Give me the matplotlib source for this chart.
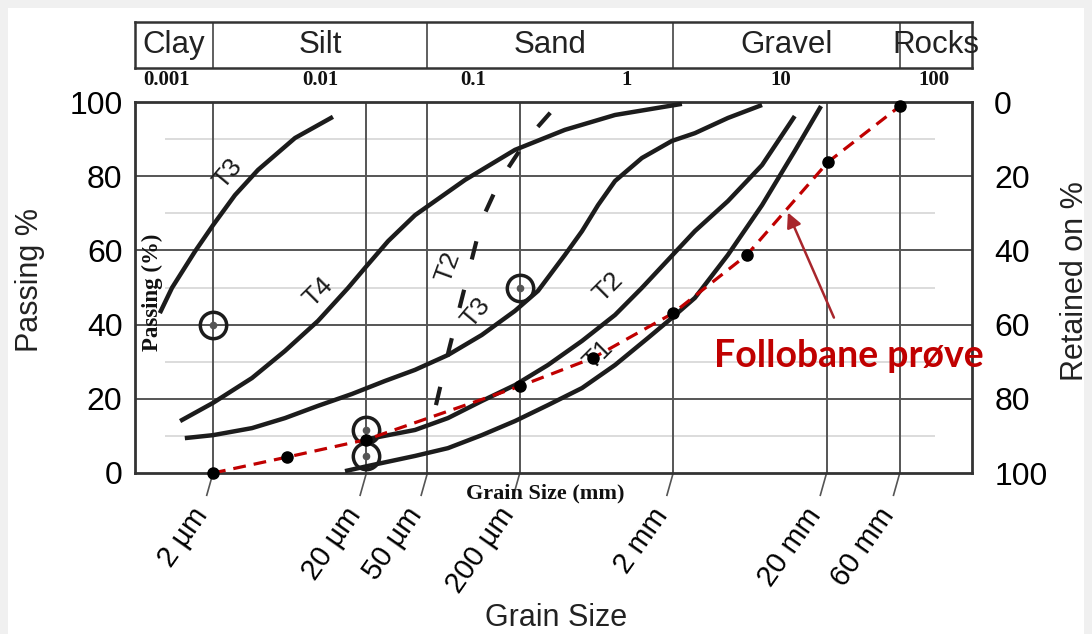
import numpy as np
import matplotlib.pyplot as plt
from matplotlib.patches import Rectangle
from matplotlib.transforms import ScaledTranslation

plt.rcParams['font.family'] = ['Liberation Sans', 'DejaVu Sans']

# grain size (mm) and passing (%)
T3_UPPER_SIZE = [0.0009, 0.00108, 0.00153, 0.002, 0.00278, 0.00393, 0.00685, 0.0121]
T3_UPPER_PASS = [43.1, 49.9, 59.8, 66.8, 74.9, 81.7, 90.3, 96.0]

T4_SIZE = [0.00122, 0.002, 0.00359, 0.00589, 0.00967, 0.0152, 0.0196, 0.0277,
           0.0415, 0.0879, 0.186, 0.394, 0.835, 2.28]
T4_PASS = [14.0, 18.9, 25.6, 32.9, 41.0, 49.9, 55.3, 62.5, 69.5, 79.0, 87.1, 92.5, 96.5, 99.5]

T3_LOWER_SIZE = [0.00131, 0.002, 0.00359, 0.00589, 0.00967, 0.0161, 0.0264, 0.0415, 0.068,
                 0.113, 0.186, 0.263, 0.394, 0.509, 0.647, 0.835, 1.25, 1.96, 2.77, 4.55, 7.59]
T3_LOWER_PASS = [9.4, 10.2, 12.1, 14.8, 18.1, 21.3, 24.8, 27.8, 31.8, 37.2, 43.7, 49.1,
                 58.8, 65.2, 72.2, 78.7, 84.9, 89.5, 91.6, 95.7, 99.2]

T2_SIZE = [0.019, 0.0415, 0.068, 0.113, 0.186, 0.305, 0.509, 0.835, 1.25, 2.77, 4.55, 7.59, 12.4]
T2_PASS = [8.9, 11.6, 14.8, 19.4, 23.7, 29.1, 35.6, 42.6, 49.9, 65.2, 73.3, 83.0, 96.2]

T1_SIZE = [0.0145, 0.0205, 0.0415, 0.068, 0.113, 0.186, 0.305, 0.509, 0.835, 1.37,
           1.96, 2.77, 4.55, 7.59, 12.4, 18.4]
T1_PASS = [0.5, 1.9, 4.6, 6.7, 10.2, 14.0, 18.3, 22.9, 29.1, 36.4, 41.8, 47.2, 58.8,
           72.2, 86.8, 98.9]

T2_DASHED_SIZE = [0.0568, 0.069, 0.113, 0.149, 0.226, 0.319]
T2_DASHED_PASS = [18.3, 33.2, 68.2, 79.0, 90.3, 97.3]

# circled reference points
CIRCLE_SIZE = [0.002, 0.02, 0.02, 0.2]
CIRCLE_PASS = [40, 11.5, 4.5, 50]

# Follobane sample
SAMPLE_SIZE = [0.002, 0.0061, 0.02, 0.2, 0.6, 2.0, 6.05, 20.4, 60.2]
SAMPLE_PASS = [0, 4.3, 9.0, 23.4, 31.0, 43.1, 58.8, 83.8, 98.9]

# curve labels: text, size, passing, rotation
CURVE_LABELS = [('T3', 0.0025, 80.6, 50), ('T4', 0.00967, 48.8, 45), ('T2', 0.068, 55.5, 70),
                ('T3', 0.104, 43.1, 50), ('T2', 0.75, 50.1, 45), ('T1', 0.646, 31.8, 45)]

X_TICKS = [0.002, 0.02, 0.05, 0.2, 2, 20, 60]
X_TICK_LABELS = ['2 µm', '20 µm', '50 µm', '200 µm', '2 mm', '20 mm', '60 mm']
Y_TICKS = [0, 20, 40, 60, 80, 100]

SOIL_BOUNDS = [0.002, 0.05, 2, 60]
SOIL_NAMES = ['Clay', 'Silt', 'Sand', 'Gravel', 'Rocks']
DECADES = [0.001, 0.01, 0.1, 1, 10, 100]
DECADE_LABELS = ['0.001', '0.01', '0.1', '1', '10', '100']

XMIN, XMAX = 0.00062, 177.4
W, H = 1092, 634

fig = plt.figure(figsize=(W / 100, H / 100), dpi=100, facecolor='#f0f0f0')
fig.patches.append(Rectangle((8 / W, 0), 1 - 16 / W, 1 - 8 / H, transform=fig.transFigure,
                             facecolor='white', edgecolor='none', zorder=-10))

ax = fig.add_axes([135 / W, 1 - 473 / H, 837 / W, 371 / H])
ax.set_xscale('log')
ax.set_xlim(XMIN, XMAX)
ax.set_ylim(0, 100)
ax.set_facecolor('none')

# grid
for y in [10, 30, 50, 70, 90]:
    ax.hlines(y, 0.00097, 102, color='#d6d6d6', lw=1.2, zorder=1)
for y in [20, 40, 60, 80]:
    ax.axhline(y, color='#555555', lw=1.4, zorder=1)
for x in X_TICKS:
    ax.axvline(x, color='#555555', lw=1.4, zorder=1)
for s in ax.spines.values():
    s.set_linewidth(2)
    s.set_color('#333333')

# soil curves
kw = dict(color='#1c1c1c', lw=3.2, solid_capstyle='butt', solid_joinstyle='round', zorder=3)
ax.plot(T3_UPPER_SIZE, T3_UPPER_PASS, **kw)
ax.plot(T4_SIZE, T4_PASS, **kw)
ax.plot(T3_LOWER_SIZE, T3_LOWER_PASS, **kw)
ax.plot(T2_SIZE, T2_PASS, **kw)
ax.plot(T1_SIZE, T1_PASS, **kw)
ax.plot(T2_DASHED_SIZE, T2_DASHED_PASS, color='#1c1c1c', lw=3, dashes=(4.5, 7.5), zorder=3)

ax.plot(CIRCLE_SIZE, CIRCLE_PASS, 'o', ms=19, mfc='none', mec='#1c1c1c', mew=2.5, zorder=4)
ax.plot(CIRCLE_SIZE, CIRCLE_PASS, 'o', ms=4.5, color='#555555', zorder=4)

for txt, x, y, rot in CURVE_LABELS:
    ax.text(x, y, txt, rotation=rot, ha='center', va='center', fontsize=19, color='#1c1c1c', zorder=4)

# sample line
ax.plot(SAMPLE_SIZE, SAMPLE_PASS, color='#c00000', lw=2.3, dashes=(4, 2.5), zorder=5)
ax.plot(SAMPLE_SIZE, SAMPLE_PASS, 'o', color='black', ms=8, zorder=6, clip_on=False)

ax.annotate('', xy=(11.0, 70.9), xytext=(22.7, 41.2),
            arrowprops=dict(arrowstyle='-|>', color='#a8262c', lw=1.8, mutation_scale=22), zorder=6)
ax.text(3.69, 31.5, 'Follobane prøve', fontsize=27, fontweight='bold', family='Lato',
        color='#c00000', ha='left', va='center', zorder=7, clip_on=False)

# axes ticks
ax.set_yticks(Y_TICKS)
ax.tick_params(axis='y', length=0, pad=9, labelsize=23)
ax.set_xticks(X_TICKS)
ax.set_xticklabels(X_TICK_LABELS, rotation=55, ha='right', va='center', rotation_mode='anchor')
ax.tick_params(axis='x', length=0, pad=27, labelsize=21)
for lab in ax.get_xticklabels():
    lab.set_transform(lab.get_transform() + ScaledTranslation(-8 / 72, 0, fig.dpi_scale_trans))
ax.minorticks_off()
for x in X_TICKS:
    ax.plot([x, x * 0.91], [0, -0.06], transform=ax.get_xaxis_transform(), color='#555555',
            lw=1.2, clip_on=False)

ax2 = ax.twinx()
ax2.set_ylim(100, 0)
ax2.set_yticks(Y_TICKS)
ax2.tick_params(axis='y', length=0, pad=16, labelsize=23)
for s in ax2.spines.values():
    s.set_visible(False)

# soil class strip on top
top = fig.add_axes([135 / W, 1 - 68 / H, 837 / W, 46 / H])
top.set_xscale('log')
top.set_xlim(XMIN, XMAX)
top.set_ylim(0, 1)
top.set_xticks([])
top.set_yticks([])
top.minorticks_off()
for s in top.spines.values():
    s.set_linewidth(1.8)
    s.set_color('#333333')
for b in SOIL_BOUNDS:
    top.axvline(b, color='#444444', lw=1.2)
edges = [XMIN] + SOIL_BOUNDS + [XMAX]
for i, name in enumerate(SOIL_NAMES):
    xc = np.sqrt(edges[i] * edges[i + 1])
    top.text(xc, 0.5, name, ha='center', va='center', fontsize=22.5, color='#222222')
for x, lab in zip(DECADES, DECADE_LABELS):
    top.text(x, -0.27, lab, ha='center', va='center', fontsize=15, fontweight='bold',
             family='Liberation Serif', color='#111111')

# texts
fig.text(30 / W, 1 - 280 / H, 'Passing %', rotation=90, ha='center', va='center', fontsize=22,
         color='#222222')
fig.text(1075 / W, 1 - 281 / H, 'Retained on %', rotation=90, ha='center', va='center',
         fontsize=22, color='#222222')
fig.text(152 / W, 1 - 292 / H, 'Passing (%)', rotation=90, ha='center', va='center', fontsize=16.5,
         fontweight='bold', family='Liberation Serif', color='#111111')
fig.text(545 / W, 1 - 493 / H, 'Grain Size (mm)', ha='center', va='center', fontsize=16,
         fontweight='bold', family='Liberation Serif', color='#111111')
fig.text(556 / W, 1 - 618 / H, 'Grain Size', ha='center', va='center', fontsize=22, color='#222222')

fig.savefig('out.png', dpi=100, facecolor=fig.get_facecolor())
